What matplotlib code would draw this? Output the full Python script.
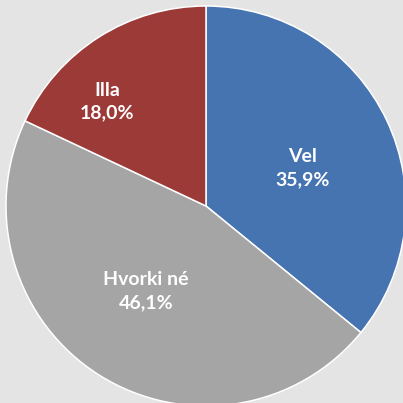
import numpy as np
from matplotlib import pyplot as plt

# Answer shares (percent), drawn clockwise from 12 o'clock.
categories = ["Vel", "Hvorki né", "Illa"]
shares = [35.9, 46.1, 18.0]

COLORS = ['#4674b0', '#a5a5a5', '#9c3a37']
BACKGROUND = '#e4e4e4'
# Label placement: fraction of radius and angle tweak (degrees) per slice.
LABEL_RADIUS = [0.52, 0.52, 0.72]
LABEL_ANGLE_SHIFT = [-4, -3, 11]

plt.rcParams['font.family'] = ['Lato', 'DejaVu Sans']

fig = plt.figure(figsize=(4.03, 4.03), dpi=100, facecolor=BACKGROUND)
ax = fig.add_axes([0, 0, 1, 1])
ax.set_facecolor(BACKGROUND)

wedges, _ = ax.pie(shares, colors=COLORS, startangle=90, counterclock=False,
                   radius=1.0, center=(0, 0),
                   wedgeprops=dict(edgecolor='white', linewidth=1.1))

for wedge, name, share, r, shift in zip(wedges, categories, shares,
                                         LABEL_RADIUS, LABEL_ANGLE_SHIFT):
    mid = np.deg2rad((wedge.theta1 + wedge.theta2) / 2 + shift)
    label = f"{name}\n{share:.1f}%".replace('.', ',')
    ax.text(r*np.cos(mid), r*np.sin(mid), label, ha='center', va='center',
            color='white', fontsize=14, fontweight='bold', linespacing=1.4)

ax.set_xlim(-1.03, 0.985)
ax.set_ylim(-0.985, 1.03)
ax.set_aspect('equal')
ax.axis('off')

fig.savefig('out.png', dpi=100, facecolor=BACKGROUND)
